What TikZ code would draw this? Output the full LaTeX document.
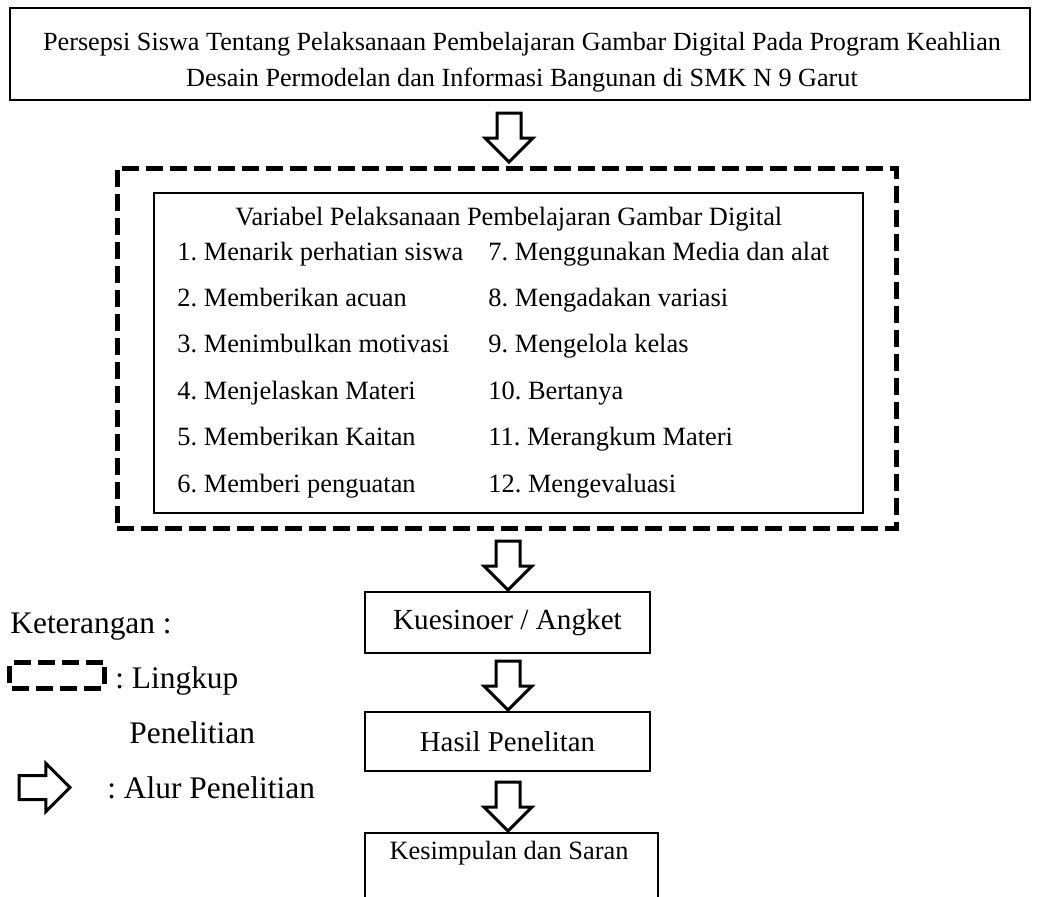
\documentclass[tikz,border=0pt]{standalone}
\usepackage{fontspec}
\setmainfont{Liberation Serif}
\usetikzlibrary{shapes.arrows,positioning}

\begin{document}
\frenchspacing
\begin{tikzpicture}[x=0.5pt,y=-0.5pt,
    kotak/.style={draw, line width=0.6pt, rectangle, inner sep=0pt},
    garisputus/.style={draw, line width=2.5pt, dash pattern=on 8.5pt off 3.5pt},
    alur/.style={single arrow, draw, line width=1.5pt, inner sep=5.25pt, outer sep=0pt,
        single arrow head extend=6pt, minimum height=24.5pt, anchor=tip},
    isi/.style={font=\fontsize{13.2}{18}\selectfont, inner sep=0pt},
    ket/.style={font=\fontsize{15.7}{19}\selectfont, inner sep=0pt, anchor=base west}]
    \useasboundingbox (0,0) rectangle (1040,896);

    % judul
    \node[kotak, line width=0.8pt, minimum width=510pt, minimum height=46pt] at (520,54)(judul){};
    \node[isi, font=\fontsize{13.1}{18}\selectfont, align=center] at (522,62)(judultext){Persepsi Siswa Tentang Pelaksanaan Pembelajaran Gambar Digital Pada Program Keahlian\\Desain Permodelan dan Informasi Bangunan di SMK N 9 Garut};

    % lingkup penelitian
    \node[garisputus, minimum width=389.5pt, minimum height=180pt] at (506.5,348)(lingkup){};
    \node[kotak, minimum width=354.5pt, minimum height=160pt] at (508.5,353)(variabel){};
    \node[isi, anchor=base west] at (235,225)(vartitle){Variabel Pelaksanaan Pembelajaran Gambar Digital};
    \foreach \i/\a/\b in {0/1. Menarik perhatian siswa/7. Menggunakan Media dan alat,
                          1/2. Memberikan acuan/8. Mengadakan variasi,
                          2/3. Menimbulkan motivasi/9. Mengelola kelas,
                          3/4. Menjelaskan Materi/10. Bertanya,
                          4/5. Memberikan Kaitan/11. Merangkum Materi,
                          5/6. Memberi penguatan/12. Mengevaluasi}{
        \node[isi, anchor=base west] at (177,{260+46.4*\i})(kiri\i){\a};
        \node[isi, anchor=base west] at (488,{260+46.4*\i})(kanan\i){\b};
    }

    % alur
    \node[kotak, minimum width=142.5pt, minimum height=30.5pt, font=\fontsize{14.6}{18}\selectfont] at (507.5,622.5)(kuesioner){Kuesinoer / Angket};
    \node[kotak, minimum width=142.5pt, minimum height=29.5pt, font=\fontsize{14.4}{18}\selectfont] at (507.5,741.5)(hasil){Hasil Penelitan};
    \node[kotak, minimum width=146.5pt, minimum height=36pt] at (511.5,869)(kesimpulan){};
    \node[isi] at (509,853)(kesimpulantext){Kesimpulan dan Saran};

    \node[alur, shape border rotate=270] at (509,162)(panah1){};
    \node[alur, shape border rotate=270] at (508,590)(panah2){};
    \node[alur, shape border rotate=270] at (508,710)(panah3){};
    \node[alur, shape border rotate=270] at (508,831)(panah4){};

    % keterangan
    \node[ket] at (10,633)(keterangan){Keterangan :};
    \node[garisputus, rounded corners=1pt, minimum width=47.5pt, minimum height=13pt] at (57,675.5)(ketlingkup){};
    \node[ket] at (115,688)(ketlingkuptext){: Lingkup};
    \node[ket] at (129,743)(ketlingkuptext2){Penelitian};
    \node[alur, minimum height=25.5pt] at (70,787.5)(ketalur){};
    \node[ket] at (107,798)(ketalurtext){: Alur Penelitian};
\end{tikzpicture}
\end{document}
